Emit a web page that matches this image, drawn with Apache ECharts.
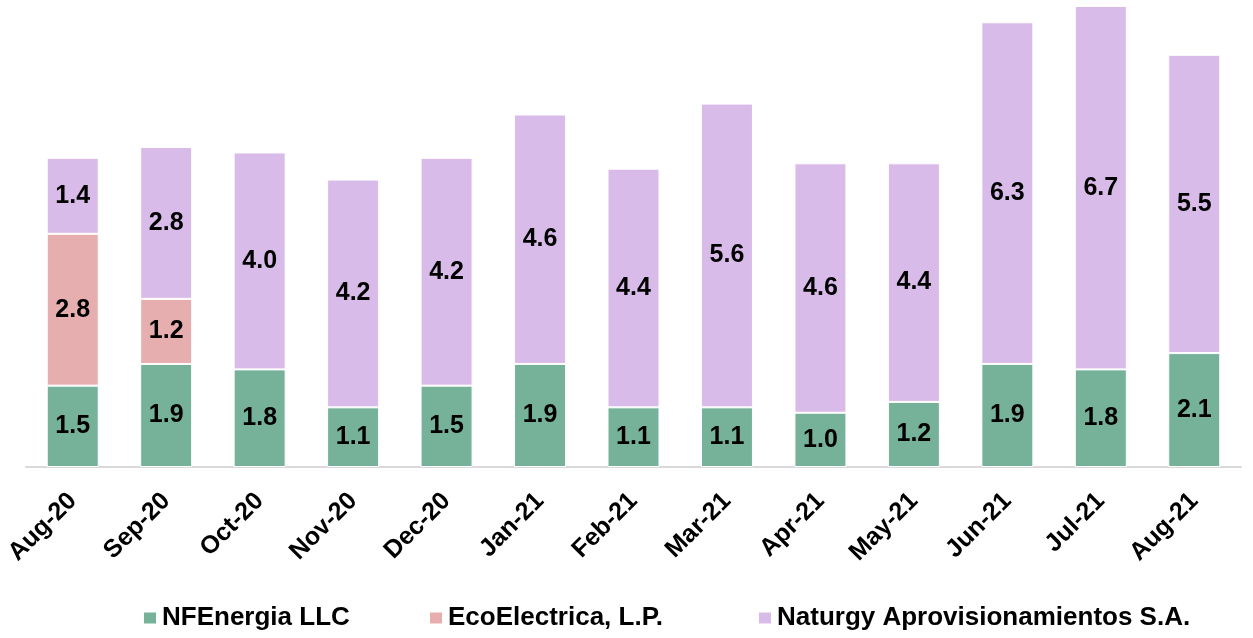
<!DOCTYPE html>
<html>
<head>
<meta charset="utf-8">
<script src="https://cdn.jsdelivr.net/npm/echarts@6/dist/echarts.min.js"></script>
<style>
  html, body { margin: 0; padding: 0; background: #fff; }
  #main { width: 1253px; height: 638px; }
</style>
</head>
<body>
<div id="main"></div>
<script>
var months = ['Aug-20', 'Sep-20', 'Oct-20', 'Nov-20', 'Dec-20', 'Jan-21', 'Feb-21',
              'Mar-21', 'Apr-21', 'May-21', 'Jun-21', 'Jul-21', 'Aug-21'];
var nfEnergia = [1.5, 1.9, 1.8, 1.1, 1.5, 1.9, 1.1, 1.1, 1.0, 1.2, 1.9, 1.8, 2.1];
var ecoElectrica = [2.8, 1.2, null, null, null, null, null, null, null, null, null, null, null];
var naturgy = [1.4, 2.8, 4.0, 4.2, 4.2, 4.6, 4.4, 5.6, 4.6, 4.4, 6.3, 6.7, 5.5];
var seriesNames = ['NFEnergia LLC', 'EcoElectrica, L.P.', 'Naturgy Aprovisionamientos S.A.'];

var FONT = 'Liberation Sans, Arial, sans-serif';
var myChart = echarts.init(document.getElementById('main'));

// 每个系列共用的样式
function makeSeries(name, data, color) {
    return {
        name: name,
        type: 'bar',
        stack: 'total',
        barWidth: 52,
        data: data,
        itemStyle: {
            color: color,
            borderColor: '#ffffff',
            borderWidth: 1
        },
        label: {
            show: true,
            position: 'inside',
            color: '#000',
            fontSize: 25,
            fontWeight: 'bold',
            fontFamily: FONT,
            formatter: function (p) {
                return p.value == null ? '' : p.value.toFixed(1);
            }
        }
    };
}

// 图例分三块，各自定位
function makeLegend(name, left) {
    return {
        data: [name],
        left: left,
        top: 605,
        padding: 0,
        itemWidth: 14,
        itemHeight: 13,
        icon: 'rect',
        textStyle: {
            color: '#000',
            fontSize: 26,
            fontWeight: 'bold',
            fontFamily: FONT
        }
    };
}

var option = {
    animation: false,
    grid: {
        left: 26,
        right: 12,
        top: 6,
        bottom: 171
    },
    legend: [
        makeLegend(seriesNames[0], 142),
        makeLegend(seriesNames[1], 428),
        makeLegend(seriesNames[2], 757)
    ],
    xAxis: {
        type: 'category',
        data: months,
        axisTick: { show: false },
        axisLine: {
            lineStyle: { color: '#d9d9d9', width: 2 }
        },
        axisLabel: {
            rotate: 45,
            interval: 0,
            margin: 30,
            color: '#000',
            fontSize: 25,
            fontWeight: 'bold',
            fontFamily: FONT
        }
    },
    yAxis: {
        type: 'value',
        min: 0,
        max: 8.5,
        show: false,
        splitLine: { show: false }
    },
    series: [
        makeSeries(seriesNames[0], nfEnergia, '#76b19a'),
        makeSeries(seriesNames[1], ecoElectrica, '#e6aeae'),
        makeSeries(seriesNames[2], naturgy, '#d9bbea')
    ]
};

myChart.setOption(option);
</script>
</body>
</html>
